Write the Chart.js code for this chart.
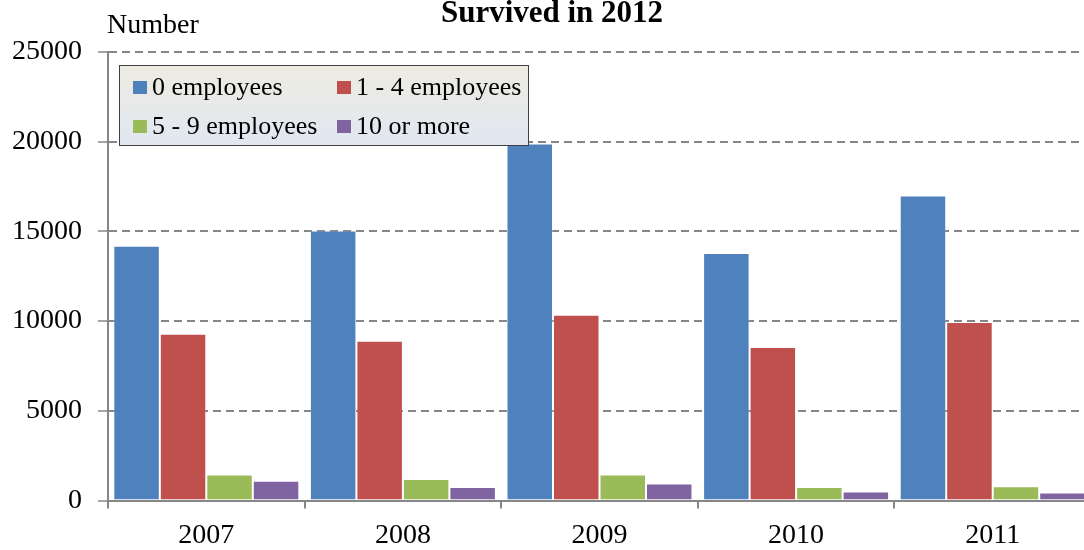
<!DOCTYPE html>
<html>
<head>
<meta charset="utf-8">
<script src="https://cdn.jsdelivr.net/npm/chart.js@4/dist/chart.umd.min.js"></script>
<style>
  html, body { margin: 0; padding: 0; background: #ffffff; overflow: hidden; }
  #wrap { width: 1092px; height: 550px; }
</style>
</head>
<body>
<div id="wrap"><canvas id="c" width="1092" height="550"></canvas></div>
<script>
const categories = ['2007', '2008', '2009', '2010', '2011'];
const seriesLabels = ['0 employees', '1 - 4 employees', '5 - 9 employees', '10 or more'];
const zeroEmployees = [14200, 15050, 19900, 13800, 17000];
const oneToFour = [9300, 8900, 10350, 8550, 9950];
const fiveToNine = [1450, 1200, 1450, 750, 800];
const tenOrMore = [1100, 750, 950, 500, 450];
const yTicks = [0, 5000, 10000, 15000, 20000, 25000];
const titleText = 'Survived in 2012';
const yAxisLabel = 'Number';

const colors = ['#4F81BD', '#C0504D', '#9BBB59', '#8064A2'];
const seriesValues = [zeroEmployees, oneToFour, fiveToNine, tenOrMore];
const FONT = '"Liberation Serif", "Times New Roman", serif';

const overlay = {
  id: 'overlay',
  afterDraw(chart) {
    const ctx = chart.ctx;
    ctx.save();
    // Title
    ctx.fillStyle = '#000';
    ctx.font = 'bold 31px ' + FONT;
    ctx.textAlign = 'center';
    ctx.textBaseline = 'alphabetic';
    ctx.fillText(titleText, 552, 22);
    // Y axis label
    ctx.font = '28px ' + FONT;
    ctx.textAlign = 'left';
    ctx.fillText(yAxisLabel, 107, 33);

    // Legend box
    const bx = 119.5, by = 65.5, bw = 409, bh = 80;
    const g = ctx.createLinearGradient(0, by, 0, by + bh);
    g.addColorStop(0, 'rgb(238,236,225)');
    g.addColorStop(1, 'rgb(225,231,242)');
    ctx.fillStyle = g;
    ctx.fillRect(bx, by, bw, bh);
    ctx.strokeStyle = '#404040';
    ctx.lineWidth = 1;
    ctx.strokeRect(bx, by, bw, bh);

    const colX = [133, 337];
    const rowY = [87, 126];
    ctx.font = '26px ' + FONT;
    ctx.textBaseline = 'middle';
    chart.data.datasets.forEach((ds, i) => {
      const cx = colX[i % 2];
      const cy = rowY[Math.floor(i / 2)];
      ctx.fillStyle = ds.backgroundColor;
      ctx.fillRect(cx, cy - 6, 14, 13);
      ctx.fillStyle = '#000';
      ctx.fillText(ds.label, cx + 19, cy + 1);
    });
    ctx.restore();
  }
};

new Chart(document.getElementById('c'), {
  type: 'bar',
  data: {
    labels: categories,
    datasets: seriesLabels.map((lab, i) => ({
      label: lab,
      data: seriesValues[i],
      backgroundColor: colors[i],
      borderColor: 'rgba(255,255,255,0.22)',
      borderWidth: 1,
      barPercentage: 1.0,
      categoryPercentage: 0.946
    }))
  },
  options: {
    responsive: false,
    animation: false,
    devicePixelRatio: 1,
    layout: { padding: { top: 52, left: 12, right: 1, bottom: 0 } },
    plugins: {
      legend: { display: false },
      title: { display: false },
      tooltip: { enabled: false }
    },
    scales: {
      x: {
        afterFit(scale) { scale.height = 49.5; },
        grid: {
          offset: true,
          drawOnChartArea: false,
          color: '#868686',
          tickLength: 8,
          lineWidth: 2
        },
        border: { color: '#868686', width: 2 },
        ticks: {
          color: '#000',
          font: { family: FONT, size: 28 },
          padding: 10
        }
      },
      y: {
        min: 0,
        max: 25000,
        afterFit(scale) { scale.width = 96; },
        afterBuildTicks(scale) {
          scale.ticks = yTicks.map(v => ({ value: v }));
        },
        grid: {
          color: '#868686',
          lineWidth: 2,
          tickLength: 10,
          tickColor: '#868686',
          tickWidth: 1.5,
          tickBorderDash: []
        },
        border: { color: '#868686', width: 2, dash: [8, 5] },
        ticks: {
          color: '#000',
          font: { family: FONT, size: 28 },
          padding: 16,
          callback: v => String(v)
        }
      }
    }
  },
  plugins: [overlay]
});
</script>
</body>
</html>
